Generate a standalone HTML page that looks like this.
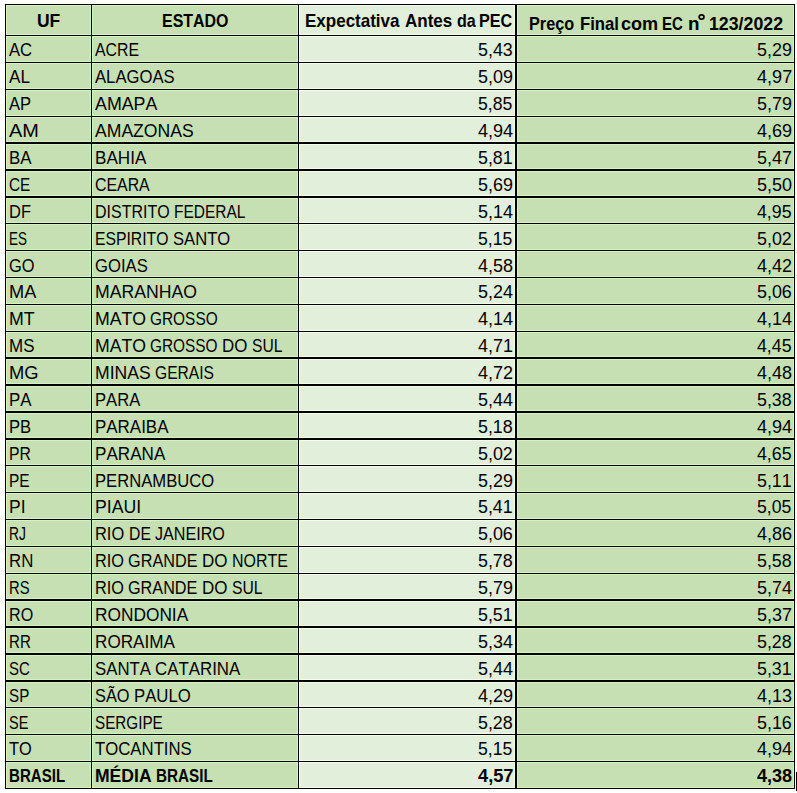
<!DOCTYPE html>
<html><head><meta charset="utf-8"><style>
html,body{margin:0;padding:0;background:#fff;width:797px;height:793px;overflow:hidden}
svg{position:absolute;left:0;top:0}
.t{position:absolute;font-family:"Liberation Sans",sans-serif;font-size:18.6px;line-height:normal;white-space:nowrap;color:#000;transform-origin:0 0;font-kerning:none;font-variant-ligatures:none}
.b{font-weight:bold}
</style></head><body>
<svg shape-rendering="crispEdges" width="797" height="793" viewBox="0 0 797 793">
<rect x="5" y="4" width="294" height="785" fill="#C6E0B4"/>
<rect x="299" y="4" width="216" height="785" fill="#E2EFDA"/>
<rect x="515" y="4" width="280" height="785" fill="#C6E0B4"/>
<rect x="5" y="5" width="294" height="1" fill="#D6F2C2"/>
<rect x="299" y="5" width="216" height="1" fill="#F4FFEB"/>
<rect x="515" y="5" width="280" height="1" fill="#D6F2C2"/>
<rect x="5" y="34" width="294" height="1" fill="#D6F2C2"/>
<rect x="299" y="34" width="216" height="1" fill="#F4FFEB"/>
<rect x="515" y="34" width="280" height="1" fill="#D6F2C2"/>
<rect x="5" y="36" width="294" height="1" fill="#D6F2C2"/>
<rect x="299" y="36" width="216" height="1" fill="#F4FFEB"/>
<rect x="515" y="36" width="280" height="1" fill="#D6F2C2"/>
<rect x="5" y="61" width="294" height="1" fill="#D6F2C2"/>
<rect x="299" y="61" width="216" height="1" fill="#F4FFEB"/>
<rect x="515" y="61" width="280" height="1" fill="#D6F2C2"/>
<rect x="5" y="63" width="294" height="1" fill="#D6F2C2"/>
<rect x="299" y="63" width="216" height="1" fill="#F4FFEB"/>
<rect x="515" y="63" width="280" height="1" fill="#D6F2C2"/>
<rect x="5" y="88" width="294" height="1" fill="#D6F2C2"/>
<rect x="299" y="88" width="216" height="1" fill="#F4FFEB"/>
<rect x="515" y="88" width="280" height="1" fill="#D6F2C2"/>
<rect x="5" y="90" width="294" height="1" fill="#D6F2C2"/>
<rect x="299" y="90" width="216" height="1" fill="#F4FFEB"/>
<rect x="515" y="90" width="280" height="1" fill="#D6F2C2"/>
<rect x="5" y="115" width="294" height="1" fill="#D6F2C2"/>
<rect x="299" y="115" width="216" height="1" fill="#F4FFEB"/>
<rect x="515" y="115" width="280" height="1" fill="#D6F2C2"/>
<rect x="5" y="117" width="294" height="1" fill="#D6F2C2"/>
<rect x="299" y="117" width="216" height="1" fill="#F4FFEB"/>
<rect x="515" y="117" width="280" height="1" fill="#D6F2C2"/>
<rect x="5" y="141" width="294" height="1" fill="#D6F2C2"/>
<rect x="299" y="141" width="216" height="1" fill="#F4FFEB"/>
<rect x="515" y="141" width="280" height="1" fill="#D6F2C2"/>
<rect x="5" y="144" width="294" height="1" fill="#D6F2C2"/>
<rect x="299" y="144" width="216" height="1" fill="#F4FFEB"/>
<rect x="515" y="144" width="280" height="1" fill="#D6F2C2"/>
<rect x="5" y="168" width="294" height="1" fill="#D6F2C2"/>
<rect x="299" y="168" width="216" height="1" fill="#F4FFEB"/>
<rect x="515" y="168" width="280" height="1" fill="#D6F2C2"/>
<rect x="5" y="171" width="294" height="1" fill="#D6F2C2"/>
<rect x="299" y="171" width="216" height="1" fill="#F4FFEB"/>
<rect x="515" y="171" width="280" height="1" fill="#D6F2C2"/>
<rect x="5" y="195" width="294" height="1" fill="#D6F2C2"/>
<rect x="299" y="195" width="216" height="1" fill="#F4FFEB"/>
<rect x="515" y="195" width="280" height="1" fill="#D6F2C2"/>
<rect x="5" y="198" width="294" height="1" fill="#D6F2C2"/>
<rect x="299" y="198" width="216" height="1" fill="#F4FFEB"/>
<rect x="515" y="198" width="280" height="1" fill="#D6F2C2"/>
<rect x="5" y="222" width="294" height="1" fill="#D6F2C2"/>
<rect x="299" y="222" width="216" height="1" fill="#F4FFEB"/>
<rect x="515" y="222" width="280" height="1" fill="#D6F2C2"/>
<rect x="5" y="224" width="294" height="1" fill="#D6F2C2"/>
<rect x="299" y="224" width="216" height="1" fill="#F4FFEB"/>
<rect x="515" y="224" width="280" height="1" fill="#D6F2C2"/>
<rect x="5" y="249" width="294" height="1" fill="#D6F2C2"/>
<rect x="299" y="249" width="216" height="1" fill="#F4FFEB"/>
<rect x="515" y="249" width="280" height="1" fill="#D6F2C2"/>
<rect x="5" y="251" width="294" height="1" fill="#D6F2C2"/>
<rect x="299" y="251" width="216" height="1" fill="#F4FFEB"/>
<rect x="515" y="251" width="280" height="1" fill="#D6F2C2"/>
<rect x="5" y="276" width="294" height="1" fill="#D6F2C2"/>
<rect x="299" y="276" width="216" height="1" fill="#F4FFEB"/>
<rect x="515" y="276" width="280" height="1" fill="#D6F2C2"/>
<rect x="5" y="278" width="294" height="1" fill="#D6F2C2"/>
<rect x="299" y="278" width="216" height="1" fill="#F4FFEB"/>
<rect x="515" y="278" width="280" height="1" fill="#D6F2C2"/>
<rect x="5" y="303" width="294" height="1" fill="#D6F2C2"/>
<rect x="299" y="303" width="216" height="1" fill="#F4FFEB"/>
<rect x="515" y="303" width="280" height="1" fill="#D6F2C2"/>
<rect x="5" y="305" width="294" height="1" fill="#D6F2C2"/>
<rect x="299" y="305" width="216" height="1" fill="#F4FFEB"/>
<rect x="515" y="305" width="280" height="1" fill="#D6F2C2"/>
<rect x="5" y="330" width="294" height="1" fill="#D6F2C2"/>
<rect x="299" y="330" width="216" height="1" fill="#F4FFEB"/>
<rect x="515" y="330" width="280" height="1" fill="#D6F2C2"/>
<rect x="5" y="332" width="294" height="1" fill="#D6F2C2"/>
<rect x="299" y="332" width="216" height="1" fill="#F4FFEB"/>
<rect x="515" y="332" width="280" height="1" fill="#D6F2C2"/>
<rect x="5" y="356" width="294" height="1" fill="#D6F2C2"/>
<rect x="299" y="356" width="216" height="1" fill="#F4FFEB"/>
<rect x="515" y="356" width="280" height="1" fill="#D6F2C2"/>
<rect x="5" y="359" width="294" height="1" fill="#D6F2C2"/>
<rect x="299" y="359" width="216" height="1" fill="#F4FFEB"/>
<rect x="515" y="359" width="280" height="1" fill="#D6F2C2"/>
<rect x="5" y="383" width="294" height="1" fill="#D6F2C2"/>
<rect x="299" y="383" width="216" height="1" fill="#F4FFEB"/>
<rect x="515" y="383" width="280" height="1" fill="#D6F2C2"/>
<rect x="5" y="386" width="294" height="1" fill="#D6F2C2"/>
<rect x="299" y="386" width="216" height="1" fill="#F4FFEB"/>
<rect x="515" y="386" width="280" height="1" fill="#D6F2C2"/>
<rect x="5" y="410" width="294" height="1" fill="#D6F2C2"/>
<rect x="299" y="410" width="216" height="1" fill="#F4FFEB"/>
<rect x="515" y="410" width="280" height="1" fill="#D6F2C2"/>
<rect x="5" y="413" width="294" height="1" fill="#D6F2C2"/>
<rect x="299" y="413" width="216" height="1" fill="#F4FFEB"/>
<rect x="515" y="413" width="280" height="1" fill="#D6F2C2"/>
<rect x="5" y="437" width="294" height="1" fill="#D6F2C2"/>
<rect x="299" y="437" width="216" height="1" fill="#F4FFEB"/>
<rect x="515" y="437" width="280" height="1" fill="#D6F2C2"/>
<rect x="5" y="440" width="294" height="1" fill="#D6F2C2"/>
<rect x="299" y="440" width="216" height="1" fill="#F4FFEB"/>
<rect x="515" y="440" width="280" height="1" fill="#D6F2C2"/>
<rect x="5" y="464" width="294" height="1" fill="#D6F2C2"/>
<rect x="299" y="464" width="216" height="1" fill="#F4FFEB"/>
<rect x="515" y="464" width="280" height="1" fill="#D6F2C2"/>
<rect x="5" y="466" width="294" height="1" fill="#D6F2C2"/>
<rect x="299" y="466" width="216" height="1" fill="#F4FFEB"/>
<rect x="515" y="466" width="280" height="1" fill="#D6F2C2"/>
<rect x="5" y="491" width="294" height="1" fill="#D6F2C2"/>
<rect x="299" y="491" width="216" height="1" fill="#F4FFEB"/>
<rect x="515" y="491" width="280" height="1" fill="#D6F2C2"/>
<rect x="5" y="493" width="294" height="1" fill="#D6F2C2"/>
<rect x="299" y="493" width="216" height="1" fill="#F4FFEB"/>
<rect x="515" y="493" width="280" height="1" fill="#D6F2C2"/>
<rect x="5" y="518" width="294" height="1" fill="#D6F2C2"/>
<rect x="299" y="518" width="216" height="1" fill="#F4FFEB"/>
<rect x="515" y="518" width="280" height="1" fill="#D6F2C2"/>
<rect x="5" y="520" width="294" height="1" fill="#D6F2C2"/>
<rect x="299" y="520" width="216" height="1" fill="#F4FFEB"/>
<rect x="515" y="520" width="280" height="1" fill="#D6F2C2"/>
<rect x="5" y="545" width="294" height="1" fill="#D6F2C2"/>
<rect x="299" y="545" width="216" height="1" fill="#F4FFEB"/>
<rect x="515" y="545" width="280" height="1" fill="#D6F2C2"/>
<rect x="5" y="547" width="294" height="1" fill="#D6F2C2"/>
<rect x="299" y="547" width="216" height="1" fill="#F4FFEB"/>
<rect x="515" y="547" width="280" height="1" fill="#D6F2C2"/>
<rect x="5" y="572" width="294" height="1" fill="#D6F2C2"/>
<rect x="299" y="572" width="216" height="1" fill="#F4FFEB"/>
<rect x="515" y="572" width="280" height="1" fill="#D6F2C2"/>
<rect x="5" y="574" width="294" height="1" fill="#D6F2C2"/>
<rect x="299" y="574" width="216" height="1" fill="#F4FFEB"/>
<rect x="515" y="574" width="280" height="1" fill="#D6F2C2"/>
<rect x="5" y="598" width="294" height="1" fill="#D6F2C2"/>
<rect x="299" y="598" width="216" height="1" fill="#F4FFEB"/>
<rect x="515" y="598" width="280" height="1" fill="#D6F2C2"/>
<rect x="5" y="601" width="294" height="1" fill="#D6F2C2"/>
<rect x="299" y="601" width="216" height="1" fill="#F4FFEB"/>
<rect x="515" y="601" width="280" height="1" fill="#D6F2C2"/>
<rect x="5" y="625" width="294" height="1" fill="#D6F2C2"/>
<rect x="299" y="625" width="216" height="1" fill="#F4FFEB"/>
<rect x="515" y="625" width="280" height="1" fill="#D6F2C2"/>
<rect x="5" y="628" width="294" height="1" fill="#D6F2C2"/>
<rect x="299" y="628" width="216" height="1" fill="#F4FFEB"/>
<rect x="515" y="628" width="280" height="1" fill="#D6F2C2"/>
<rect x="5" y="652" width="294" height="1" fill="#D6F2C2"/>
<rect x="299" y="652" width="216" height="1" fill="#F4FFEB"/>
<rect x="515" y="652" width="280" height="1" fill="#D6F2C2"/>
<rect x="5" y="655" width="294" height="1" fill="#D6F2C2"/>
<rect x="299" y="655" width="216" height="1" fill="#F4FFEB"/>
<rect x="515" y="655" width="280" height="1" fill="#D6F2C2"/>
<rect x="5" y="679" width="294" height="1" fill="#D6F2C2"/>
<rect x="299" y="679" width="216" height="1" fill="#F4FFEB"/>
<rect x="515" y="679" width="280" height="1" fill="#D6F2C2"/>
<rect x="5" y="682" width="294" height="1" fill="#D6F2C2"/>
<rect x="299" y="682" width="216" height="1" fill="#F4FFEB"/>
<rect x="515" y="682" width="280" height="1" fill="#D6F2C2"/>
<rect x="5" y="706" width="294" height="1" fill="#D6F2C2"/>
<rect x="299" y="706" width="216" height="1" fill="#F4FFEB"/>
<rect x="515" y="706" width="280" height="1" fill="#D6F2C2"/>
<rect x="5" y="708" width="294" height="1" fill="#D6F2C2"/>
<rect x="299" y="708" width="216" height="1" fill="#F4FFEB"/>
<rect x="515" y="708" width="280" height="1" fill="#D6F2C2"/>
<rect x="5" y="733" width="294" height="1" fill="#D6F2C2"/>
<rect x="299" y="733" width="216" height="1" fill="#F4FFEB"/>
<rect x="515" y="733" width="280" height="1" fill="#D6F2C2"/>
<rect x="5" y="735" width="294" height="1" fill="#D6F2C2"/>
<rect x="299" y="735" width="216" height="1" fill="#F4FFEB"/>
<rect x="515" y="735" width="280" height="1" fill="#D6F2C2"/>
<rect x="5" y="760" width="294" height="1" fill="#D6F2C2"/>
<rect x="299" y="760" width="216" height="1" fill="#F4FFEB"/>
<rect x="515" y="760" width="280" height="1" fill="#D6F2C2"/>
<rect x="5" y="762" width="294" height="1" fill="#D6F2C2"/>
<rect x="299" y="762" width="216" height="1" fill="#F4FFEB"/>
<rect x="515" y="762" width="280" height="1" fill="#D6F2C2"/>
<rect x="5" y="787" width="294" height="1" fill="#D6F2C2"/>
<rect x="299" y="787" width="216" height="1" fill="#F4FFEB"/>
<rect x="515" y="787" width="280" height="1" fill="#D6F2C2"/>
<rect x="5" y="787" width="294" height="1" fill="#D6F2C2"/>
<rect x="299" y="787" width="216" height="1" fill="#F4FFEB"/>
<rect x="515" y="787" width="280" height="1" fill="#D6F2C2"/>
<rect x="6" y="4" width="1" height="785" fill="#D6F2C2"/>
<rect x="90" y="4" width="1" height="785" fill="#D6F2C2"/>
<rect x="92" y="4" width="1" height="785" fill="#D6F2C2"/>
<rect x="297" y="4" width="1" height="785" fill="#D6F2C2"/>
<rect x="299" y="4" width="1" height="785" fill="#F4FFEB"/>
<rect x="514" y="4" width="1" height="785" fill="#F4FFEB"/>
<rect x="517" y="4" width="1" height="785" fill="#D6F2C2"/>
<rect x="793" y="4" width="1" height="785" fill="#D6F2C2"/>
<rect x="5" y="4" width="790" height="1" fill="#000"/>
<rect x="5" y="35" width="790" height="1" fill="#000"/>
<rect x="5" y="62" width="790" height="1" fill="#000"/>
<rect x="5" y="89" width="790" height="1" fill="#000"/>
<rect x="5" y="116" width="790" height="1" fill="#000"/>
<rect x="5" y="142" width="790" height="2" fill="#000"/>
<rect x="5" y="169" width="790" height="2" fill="#000"/>
<rect x="5" y="196" width="790" height="2" fill="#000"/>
<rect x="5" y="223" width="790" height="1" fill="#000"/>
<rect x="5" y="250" width="790" height="1" fill="#000"/>
<rect x="5" y="277" width="790" height="1" fill="#000"/>
<rect x="5" y="304" width="790" height="1" fill="#000"/>
<rect x="5" y="331" width="790" height="1" fill="#000"/>
<rect x="5" y="357" width="790" height="2" fill="#000"/>
<rect x="5" y="384" width="790" height="2" fill="#000"/>
<rect x="5" y="411" width="790" height="2" fill="#000"/>
<rect x="5" y="438" width="790" height="2" fill="#000"/>
<rect x="5" y="465" width="790" height="1" fill="#000"/>
<rect x="5" y="492" width="790" height="1" fill="#000"/>
<rect x="5" y="519" width="790" height="1" fill="#000"/>
<rect x="5" y="546" width="790" height="1" fill="#000"/>
<rect x="5" y="573" width="790" height="1" fill="#000"/>
<rect x="5" y="599" width="790" height="2" fill="#000"/>
<rect x="5" y="626" width="790" height="2" fill="#000"/>
<rect x="5" y="653" width="790" height="2" fill="#000"/>
<rect x="5" y="680" width="790" height="2" fill="#000"/>
<rect x="5" y="707" width="790" height="1" fill="#000"/>
<rect x="5" y="734" width="790" height="1" fill="#000"/>
<rect x="5" y="761" width="790" height="1" fill="#000"/>
<rect x="5" y="788" width="790" height="1" fill="#000"/>
<rect x="5" y="788" width="790" height="1" fill="#000"/>
<rect x="5" y="4" width="1" height="785" fill="#000"/>
<rect x="91" y="4" width="1" height="785" fill="#000"/>
<rect x="298" y="4" width="1" height="785" fill="#000"/>
<rect x="515" y="4" width="2" height="785" fill="#000"/>
<rect x="794" y="4" width="1" height="785" fill="#000"/>
<rect x="796" y="772" width="1" height="19" fill="#000"/>
<ellipse shape-rendering="auto" cx="701.55" cy="16.95" rx="2.4" ry="2.15" fill="none" stroke="#000" stroke-width="1.75"/>
</svg>
<div class="t b" style="left:36.85px;top:9.97px;transform:scaleX(0.9393)">UF</div>
<div class="t b" style="left:162.13px;top:9.97px;transform:scaleX(0.8585)">ESTADO</div>
<div class="t b" style="left:305.06px;top:9.97px;transform:scaleX(0.9143)">Expectativa</div>
<div class="t b" style="left:404.58px;top:9.97px;transform:scaleX(0.9157)">Antes</div>
<div class="t b" style="left:456.54px;top:9.97px;transform:scaleX(0.8641)">da</div>
<div class="t b" style="left:478.72px;top:9.97px;transform:scaleX(0.8687)">PEC</div>
<div class="t b" style="left:529.41px;top:12.97px;transform:scaleX(0.8748)">Preço</div>
<div class="t b" style="left:580.18px;top:12.97px;transform:scaleX(0.8986)">Final</div>
<div class="t b" style="left:621.29px;top:12.97px;transform:scaleX(0.9735)">com</div>
<div class="t b" style="left:662.19px;top:12.97px;transform:scaleX(0.8096)">EC</div>
<div class="t b" style="left:687.76px;top:12.97px;transform:scaleX(1.0131)">n</div>
<div class="t b" style="left:708.98px;top:12.97px;transform:scaleX(0.9542)">123/2022</div>
<div class="t" style="left:8.84px;top:39.45px;transform:scaleX(0.8936)">AC</div>
<div class="t" style="left:94.85px;top:39.45px;transform:scaleX(0.8521)">ACRE</div>
<div class="t" style="left:478.08px;top:39.45px;transform:scaleX(0.9601)">5,43</div>
<div class="t" style="left:757.27px;top:39.45px;transform:scaleX(0.9641)">5,29</div>
<div class="t" style="left:8.84px;top:66.33px;transform:scaleX(0.9243)">AL</div>
<div class="t" style="left:94.84px;top:66.33px;transform:scaleX(0.8967)">ALAGOAS</div>
<div class="t" style="left:478.07px;top:66.33px;transform:scaleX(0.9641)">5,09</div>
<div class="t" style="left:757.02px;top:66.33px;transform:scaleX(0.9740)">4,97</div>
<div class="t" style="left:8.84px;top:93.22px;transform:scaleX(0.8919)">AP</div>
<div class="t" style="left:94.84px;top:93.22px;transform:scaleX(0.9581)">AMAPA</div>
<div class="t" style="left:478.09px;top:93.22px;transform:scaleX(0.9472)">5,85</div>
<div class="t" style="left:757.27px;top:93.22px;transform:scaleX(0.9641)">5,79</div>
<div class="t" style="left:8.84px;top:120.10px;transform:scaleX(1.0716)">AM</div>
<div class="t" style="left:94.84px;top:120.10px;transform:scaleX(0.9462)">AMAZONAS</div>
<div class="t" style="left:477.82px;top:120.10px;transform:scaleX(0.9719)">4,94</div>
<div class="t" style="left:757.02px;top:120.10px;transform:scaleX(0.9714)">4,69</div>
<div class="t" style="left:8.80px;top:146.98px;transform:scaleX(0.9081)">BA</div>
<div class="t" style="left:94.78px;top:146.98px;transform:scaleX(0.9200)">BAHIA</div>
<div class="t" style="left:478.08px;top:146.98px;transform:scaleX(0.9588)">5,81</div>
<div class="t" style="left:757.27px;top:146.98px;transform:scaleX(0.9668)">5,47</div>
<div class="t" style="left:8.67px;top:173.87px;transform:scaleX(0.8240)">CE</div>
<div class="t" style="left:94.64px;top:173.87px;transform:scaleX(0.8535)">CEARA</div>
<div class="t" style="left:478.07px;top:173.87px;transform:scaleX(0.9641)">5,69</div>
<div class="t" style="left:757.27px;top:173.87px;transform:scaleX(0.9646)">5,50</div>
<div class="t" style="left:8.79px;top:200.75px;transform:scaleX(0.8863)">DF</div>
<div class="t" style="left:94.83px;top:200.75px;transform:scaleX(0.8600)">DISTRITO</div>
<div class="t" style="left:173.96px;top:200.75px;transform:scaleX(0.8329)">FEDERAL</div>
<div class="t" style="left:478.07px;top:200.75px;transform:scaleX(0.9648)">5,14</div>
<div class="t" style="left:757.02px;top:200.75px;transform:scaleX(0.9546)">4,95</div>
<div class="t" style="left:9.09px;top:227.63px;transform:scaleX(0.7223)">ES</div>
<div class="t" style="left:94.90px;top:227.63px;transform:scaleX(0.8464)">ESPIRITO</div>
<div class="t" style="left:172.66px;top:227.63px;transform:scaleX(0.8932)">SANTO</div>
<div class="t" style="left:478.09px;top:227.63px;transform:scaleX(0.9472)">5,15</div>
<div class="t" style="left:757.28px;top:227.63px;transform:scaleX(0.9609)">5,02</div>
<div class="t" style="left:8.71px;top:254.51px;transform:scaleX(0.8838)">GO</div>
<div class="t" style="left:94.70px;top:254.51px;transform:scaleX(0.8955)">GOIAS</div>
<div class="t" style="left:477.82px;top:254.51px;transform:scaleX(0.9660)">4,58</div>
<div class="t" style="left:757.02px;top:254.51px;transform:scaleX(0.9682)">4,42</div>
<div class="t" style="left:8.91px;top:281.40px;transform:scaleX(0.9793)">MA</div>
<div class="t" style="left:94.96px;top:281.40px;transform:scaleX(0.9498)">MARANHAO</div>
<div class="t" style="left:478.07px;top:281.40px;transform:scaleX(0.9648)">5,24</div>
<div class="t" style="left:757.27px;top:281.40px;transform:scaleX(0.9621)">5,06</div>
<div class="t" style="left:8.95px;top:308.28px;transform:scaleX(0.9554)">MT</div>
<div class="t" style="left:94.96px;top:308.28px;transform:scaleX(0.9511)">MATO</div>
<div class="t" style="left:150.35px;top:308.28px;transform:scaleX(0.8290)">GROSSO</div>
<div class="t" style="left:477.82px;top:308.28px;transform:scaleX(0.9719)">4,14</div>
<div class="t" style="left:757.02px;top:308.28px;transform:scaleX(0.9719)">4,14</div>
<div class="t" style="left:9.02px;top:335.16px;transform:scaleX(0.9127)">MS</div>
<div class="t" style="left:94.96px;top:335.16px;transform:scaleX(0.9501)">MATO</div>
<div class="t" style="left:150.29px;top:335.16px;transform:scaleX(0.8282)">GROSSO</div>
<div class="t" style="left:222.29px;top:335.16px;transform:scaleX(0.9109)">DO</div>
<div class="t" style="left:251.87px;top:335.16px;transform:scaleX(0.8415)">SUL</div>
<div class="t" style="left:477.82px;top:335.16px;transform:scaleX(0.9660)">4,71</div>
<div class="t" style="left:757.02px;top:335.16px;transform:scaleX(0.9546)">4,45</div>
<div class="t" style="left:8.90px;top:362.05px;transform:scaleX(0.9869)">MG</div>
<div class="t" style="left:94.97px;top:362.05px;transform:scaleX(0.9448)">MINAS</div>
<div class="t" style="left:155.00px;top:362.05px;transform:scaleX(0.8397)">GERAIS</div>
<div class="t" style="left:477.82px;top:362.05px;transform:scaleX(0.9682)">4,72</div>
<div class="t" style="left:757.02px;top:362.05px;transform:scaleX(0.9660)">4,48</div>
<div class="t" style="left:8.83px;top:388.93px;transform:scaleX(0.9069)">PA</div>
<div class="t" style="left:94.85px;top:388.93px;transform:scaleX(0.8940)">PARA</div>
<div class="t" style="left:478.07px;top:388.93px;transform:scaleX(0.9648)">5,44</div>
<div class="t" style="left:757.28px;top:388.93px;transform:scaleX(0.9588)">5,38</div>
<div class="t" style="left:8.86px;top:415.81px;transform:scaleX(0.8915)">PB</div>
<div class="t" style="left:94.82px;top:415.81px;transform:scaleX(0.9117)">PARAIBA</div>
<div class="t" style="left:478.08px;top:415.81px;transform:scaleX(0.9588)">5,18</div>
<div class="t" style="left:757.02px;top:415.81px;transform:scaleX(0.9719)">4,94</div>
<div class="t" style="left:8.92px;top:442.69px;transform:scaleX(0.8480)">PR</div>
<div class="t" style="left:94.81px;top:442.69px;transform:scaleX(0.9194)">PARANA</div>
<div class="t" style="left:478.08px;top:442.69px;transform:scaleX(0.9609)">5,02</div>
<div class="t" style="left:757.02px;top:442.69px;transform:scaleX(0.9546)">4,65</div>
<div class="t" style="left:8.95px;top:469.58px;transform:scaleX(0.8309)">PE</div>
<div class="t" style="left:94.85px;top:469.58px;transform:scaleX(0.8945)">PERNAMBUCO</div>
<div class="t" style="left:478.07px;top:469.58px;transform:scaleX(0.9641)">5,29</div>
<div class="t" style="left:757.28px;top:469.58px;transform:scaleX(0.9588)">5,11</div>
<div class="t" style="left:8.78px;top:496.46px;transform:scaleX(0.9409)">PI</div>
<div class="t" style="left:94.77px;top:496.46px;transform:scaleX(0.9503)">PIAUI</div>
<div class="t" style="left:478.08px;top:496.46px;transform:scaleX(0.9588)">5,41</div>
<div class="t" style="left:757.29px;top:496.46px;transform:scaleX(0.9472)">5,05</div>
<div class="t" style="left:9.08px;top:523.34px;transform:scaleX(0.7457)">RJ</div>
<div class="t" style="left:94.87px;top:523.34px;transform:scaleX(0.8830)">RIO</div>
<div class="t" style="left:128.59px;top:523.34px;transform:scaleX(0.8472)">DE</div>
<div class="t" style="left:155.25px;top:523.34px;transform:scaleX(0.8673)">JANEIRO</div>
<div class="t" style="left:478.07px;top:523.34px;transform:scaleX(0.9621)">5,06</div>
<div class="t" style="left:757.02px;top:523.34px;transform:scaleX(0.9693)">4,86</div>
<div class="t" style="left:8.83px;top:550.23px;transform:scaleX(0.9061)">RN</div>
<div class="t" style="left:94.88px;top:550.23px;transform:scaleX(0.8757)">RIO</div>
<div class="t" style="left:128.18px;top:550.23px;transform:scaleX(0.8740)">GRANDE</div>
<div class="t" style="left:202.31px;top:550.23px;transform:scaleX(0.9161)">DO</div>
<div class="t" style="left:232.37px;top:550.23px;transform:scaleX(0.8589)">NORTE</div>
<div class="t" style="left:478.08px;top:550.23px;transform:scaleX(0.9588)">5,78</div>
<div class="t" style="left:757.28px;top:550.23px;transform:scaleX(0.9588)">5,58</div>
<div class="t" style="left:9.00px;top:577.11px;transform:scaleX(0.7965)">RS</div>
<div class="t" style="left:94.88px;top:577.11px;transform:scaleX(0.8738)">RIO</div>
<div class="t" style="left:128.11px;top:577.11px;transform:scaleX(0.8720)">GRANDE</div>
<div class="t" style="left:202.08px;top:577.11px;transform:scaleX(0.9141)">DO</div>
<div class="t" style="left:231.77px;top:577.11px;transform:scaleX(0.8445)">SUL</div>
<div class="t" style="left:478.07px;top:577.11px;transform:scaleX(0.9641)">5,79</div>
<div class="t" style="left:757.27px;top:577.11px;transform:scaleX(0.9648)">5,74</div>
<div class="t" style="left:8.89px;top:603.99px;transform:scaleX(0.8666)">RO</div>
<div class="t" style="left:94.80px;top:603.99px;transform:scaleX(0.9302)">RONDONIA</div>
<div class="t" style="left:478.08px;top:603.99px;transform:scaleX(0.9588)">5,51</div>
<div class="t" style="left:757.27px;top:603.99px;transform:scaleX(0.9668)">5,37</div>
<div class="t" style="left:8.98px;top:630.88px;transform:scaleX(0.8124)">RR</div>
<div class="t" style="left:94.81px;top:630.88px;transform:scaleX(0.9219)">RORAIMA</div>
<div class="t" style="left:478.07px;top:630.88px;transform:scaleX(0.9648)">5,34</div>
<div class="t" style="left:757.28px;top:630.88px;transform:scaleX(0.9588)">5,28</div>
<div class="t" style="left:8.65px;top:657.76px;transform:scaleX(0.8059)">SC</div>
<div class="t" style="left:94.57px;top:657.76px;transform:scaleX(0.9023)">SANTA</div>
<div class="t" style="left:154.95px;top:657.76px;transform:scaleX(0.9068)">CATARINA</div>
<div class="t" style="left:478.07px;top:657.76px;transform:scaleX(0.9648)">5,44</div>
<div class="t" style="left:757.28px;top:657.76px;transform:scaleX(0.9588)">5,31</div>
<div class="t" style="left:8.64px;top:684.64px;transform:scaleX(0.8166)">SP</div>
<div class="t" style="left:94.59px;top:684.64px;transform:scaleX(0.8782)">SÃO</div>
<div class="t" style="left:133.63px;top:684.64px;transform:scaleX(0.9003)">PAULO</div>
<div class="t" style="left:477.82px;top:684.64px;transform:scaleX(0.9714)">4,29</div>
<div class="t" style="left:757.02px;top:684.64px;transform:scaleX(0.9674)">4,13</div>
<div class="t" style="left:8.67px;top:711.52px;transform:scaleX(0.7800)">SE</div>
<div class="t" style="left:94.64px;top:711.52px;transform:scaleX(0.8189)">SERGIPE</div>
<div class="t" style="left:478.08px;top:711.52px;transform:scaleX(0.9588)">5,28</div>
<div class="t" style="left:757.27px;top:711.52px;transform:scaleX(0.9621)">5,16</div>
<div class="t" style="left:8.66px;top:738.41px;transform:scaleX(0.8796)">TO</div>
<div class="t" style="left:94.65px;top:738.41px;transform:scaleX(0.9009)">TOCANTINS</div>
<div class="t" style="left:478.09px;top:738.41px;transform:scaleX(0.9472)">5,15</div>
<div class="t" style="left:757.02px;top:738.41px;transform:scaleX(0.9719)">4,94</div>
<div class="t b" style="left:8.94px;top:765.29px;transform:scaleX(0.8107)">BRASIL</div>
<div class="t b" style="left:94.96px;top:765.29px;transform:scaleX(0.9439)">MÉDIA</div>
<div class="t b" style="left:155.64px;top:765.29px;transform:scaleX(0.8208)">BRASIL</div>
<div class="t b" style="left:477.60px;top:765.29px;transform:scaleX(0.9801)">4,57</div>
<div class="t b" style="left:756.80px;top:765.29px;transform:scaleX(0.9714)">4,38</div>
</body></html>
